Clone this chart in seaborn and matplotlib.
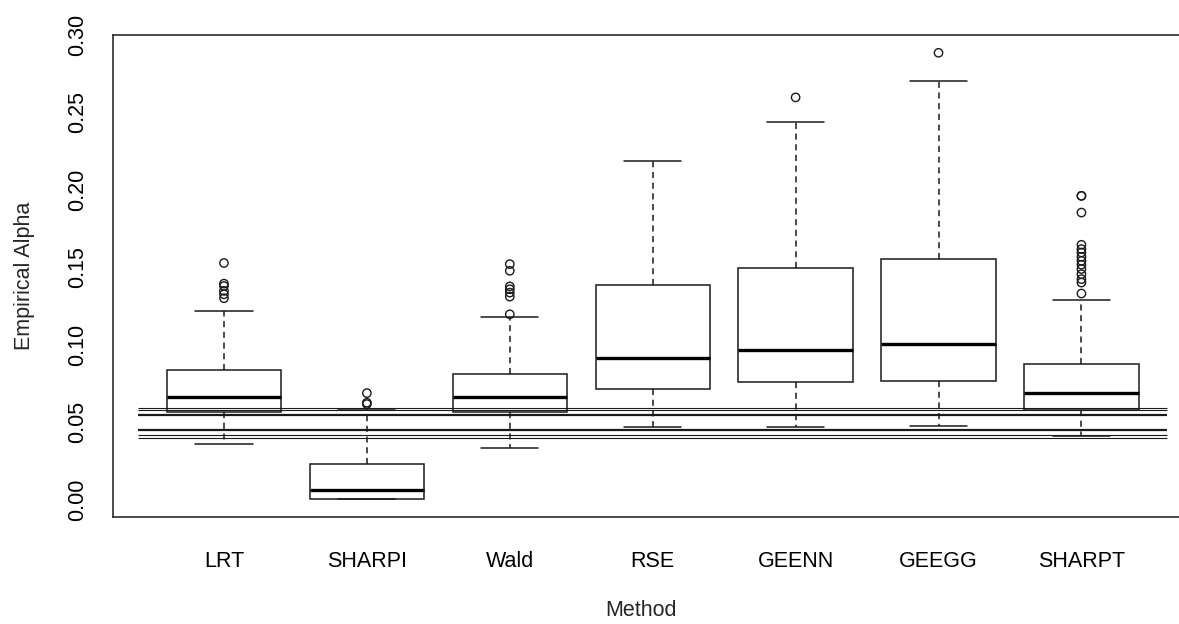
import matplotlib
matplotlib.use("Agg")
import matplotlib.pyplot as plt
import pandas as pd
import seaborn as sns

# ---- data -------------------------------------------------------------
methods = ["LRT", "SHARPI", "Wald", "RSE", "GEENN", "GEEGG", "SHARPT"]

whisker_low = [0.0359, 0.0000, 0.0333, 0.0467, 0.0465, 0.0473, 0.0411]
q1 = [0.0567, 0.0000, 0.0567, 0.0716, 0.0759, 0.0765, 0.0580]
median = [0.0664, 0.0063, 0.0664, 0.0914, 0.0966, 0.1005, 0.0686]
q3 = [0.0833, 0.0232, 0.0813, 0.1388, 0.1496, 0.1555, 0.0876]
whisker_high = [0.1215, 0.0585, 0.1180, 0.2186, 0.2436, 0.2704, 0.1290]

outliers_lrt = [0.1527, 0.1394, 0.1379, 0.1347, 0.1325, 0.1300]
outliers_sharpi = [0.0687, 0.0625, 0.0616]
outliers_wald = [0.1520, 0.1477, 0.1376, 0.1358, 0.1336, 0.1310, 0.1196]
outliers_rse = []
outliers_geenn = [0.2597]
outliers_geegg = [0.2885]
outliers_sharpt = [0.1961, 0.1961, 0.1853, 0.1645, 0.1617, 0.1595, 0.1567,
                   0.1541, 0.1516, 0.1488, 0.1455, 0.1423, 0.1401, 0.1330]

# reference band around the nominal level
ref_levels = [0.0394, 0.0416, 0.0446, 0.0543, 0.0577, 0.0592]

y_ticks = [0.00, 0.05, 0.10, 0.15, 0.20, 0.25, 0.30]
y_tick_labels = ["0.00", "0.05", "0.10", "0.15", "0.20", "0.25", "0.30"]

x_title = "Method"
y_title = "Empirical Alpha"

# ---- long-form tables -------------------------------------------------
# Five values per group: linear quartiles land exactly on q1/median/q3 and
# whis=(0, 100) puts the whisker ends on the extremes.
box_rows = []
for i, m in enumerate(methods):
    for v in (whisker_low[i], q1[i], median[i], q3[i], whisker_high[i]):
        box_rows.append((m, v))
box_df = pd.DataFrame(box_rows, columns=["Method", "Alpha"])

outlier_lists = [outliers_lrt, outliers_sharpi, outliers_wald, outliers_rse,
                 outliers_geenn, outliers_geegg, outliers_sharpt]
out_rows = [(m, v) for m, vals in zip(methods, outlier_lists) for v in vals]
out_df = pd.DataFrame(out_rows, columns=["Method", "Alpha"])

# ---- figure -----------------------------------------------------------
sns.set_theme(style="white")
plt.rcParams["font.family"] = ["Liberation Sans", "DejaVu Sans"]
FS = 15.5
INK = "#1a1a1a"

W, H = 1179, 624
fig = plt.figure(figsize=(W / 100, H / 100), dpi=100)
left_px, right_px, top_px, bottom_px = 112.5, 1192.9, 35.0, 517.3
ax = fig.add_axes([left_px / W, 1 - bottom_px / H,
                   (right_px - left_px) / W, (bottom_px - top_px) / H])

sns.boxplot(
    data=box_df, x="Method", y="Alpha", order=methods,
    whis=(0, 100), width=0.8, color="white", linecolor=INK,
    linewidth=1.1, showfliers=False, saturation=1,
    medianprops=dict(linewidth=2.4, color="black"),
    whiskerprops=dict(linestyle=(0, (4.0, 3.0)), linewidth=1.1),
    capprops=dict(linewidth=1.1),
    ax=ax,
)

sns.stripplot(
    data=out_df, x="Method", y="Alpha", order=methods, jitter=False,
    size=6.0, facecolor="none", edgecolor=INK, linewidth=1.0,
    ax=ax, zorder=4,
)

# reference lines drawn over the boxes
ref_widths = [0.8, 0.8, 1.6, 1.6, 0.8, 0.8]
for lev, lw in zip(ref_levels, ref_widths):
    ax.hlines(lev, -0.6, 6.6, colors=INK, linewidth=lw, zorder=5)

ax.set_xlim(-0.78, 6.78)
ax.set_ylim(-0.01154, 0.300)

ax.set_yticks(y_ticks)
ax.set_yticklabels(y_tick_labels, fontsize=FS, rotation=90, va="center")
ax.set_xticks(range(len(methods)))
ax.set_xticklabels(methods, fontsize=FS)
ax.tick_params(axis="both", direction="out", length=8.6, width=1.0,
               color=INK, labelcolor="black")
ax.tick_params(axis="y", pad=9)
ax.tick_params(axis="x", pad=16)
ax.set_xlabel("")
ax.set_ylabel("")

for side in ("left", "right", "top", "bottom"):
    ax.spines[side].set_visible(True)
    ax.spines[side].set_color(INK)
    ax.spines[side].set_linewidth(1.1)

fig.text(641 / W, 1 - 616 / H, x_title, fontsize=FS,
         ha="center", va="baseline")
fig.text(30 / W, 1 - (top_px + bottom_px) / 2 / H, y_title, fontsize=FS,
         rotation=90, rotation_mode="anchor", ha="center", va="baseline")

fig.savefig("out.png", dpi=100, facecolor="white")
